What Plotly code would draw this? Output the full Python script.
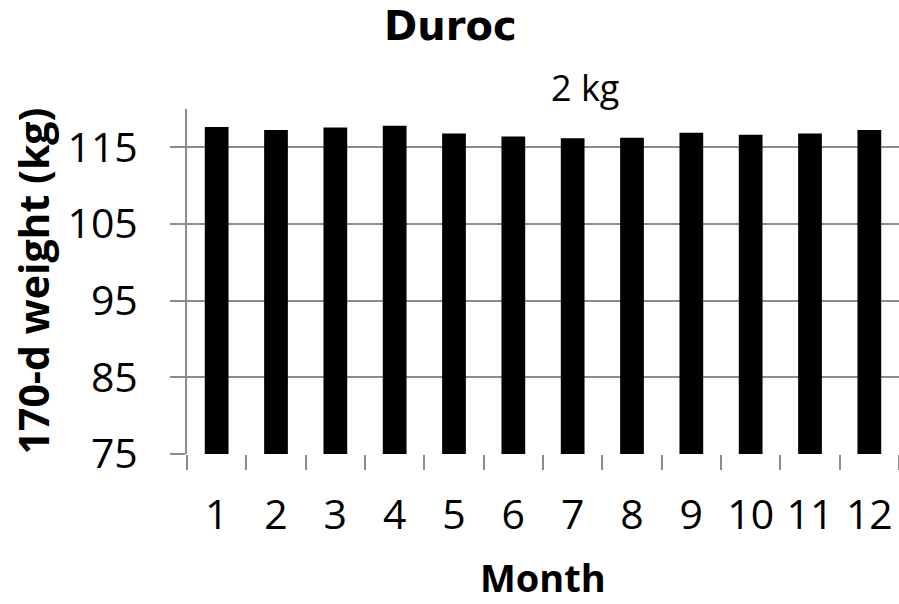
import plotly.graph_objects as go

months = ["1", "2", "3", "4", "5", "6", "7", "8", "9", "10", "11", "12"]
weights = [117.66, 117.27, 117.6, 117.8, 116.8, 116.4, 116.2, 116.25, 116.9, 116.65, 116.8, 117.25]
y_ticks = [75, 85, 95, 105, 115]

FONT = "Open Sans"
TITLE_FONT = "DejaVu Sans"
GRAY = "#8c8c8c"

fig = go.Figure(go.Bar(
    x=months, y=weights, marker=dict(color="black", line=dict(width=0)),
    width=0.40,
))

fig.update_layout(
    width=899, height=604,
    margin=dict(l=187, r=0, t=109, b=150),
    plot_bgcolor="white", paper_bgcolor="white",
    showlegend=False,
    font=dict(family=FONT, color="black", size=40),
    annotations=[
        dict(text="<b>Duroc</b>", x=0.5, y=1, xref="paper", yref="paper", xshift=-93,
             yshift=83.5, showarrow=False, xanchor="center", yanchor="middle",
             font=dict(size=40, family=TITLE_FONT)),
        dict(text="2 kg", x=0.559, y=1, xref="paper", yref="paper", yshift=21.5,
             showarrow=False, xanchor="center", yanchor="middle",
             font=dict(size=36, family=FONT)),
        dict(text="<b>Month</b>", x=0.5, y=0, xref="paper", yref="paper", yshift=-123,
             showarrow=False, xanchor="center", yanchor="middle",
             font=dict(size=38, family=FONT)),
        dict(text="<b>170-d weight (kg)</b>", x=0, y=0.5, xref="paper", yref="paper",
             xshift=-155, textangle=-90, showarrow=False, xanchor="center",
             yanchor="middle", font=dict(size=41, family=FONT)),
    ],
)

fig.update_xaxes(
    type="category", tickson="boundaries", ticks="outside", ticklen=15,
    tickcolor=GRAY, tickwidth=2, showline=False, showgrid=False,
    ticklabelstandoff=33, automargin=False,
    tickfont=dict(size=41, family=FONT),
)
fig.update_yaxes(
    range=[75, 120], tickvals=y_ticks, showgrid=True, gridcolor=GRAY, gridwidth=2,
    showline=True, linecolor=GRAY, linewidth=2, ticks="outside", ticklen=15,
    tickcolor=GRAY, tickwidth=2, zeroline=False, automargin=False,
    ticklabelstandoff=24,
    tickfont=dict(size=41, family=FONT),
)

fig.write_html(
    "out.html",
    config={"displayModeBar": False},
    post_script="document.body.style.margin='0';document.body.style.overflow='hidden';",
)
